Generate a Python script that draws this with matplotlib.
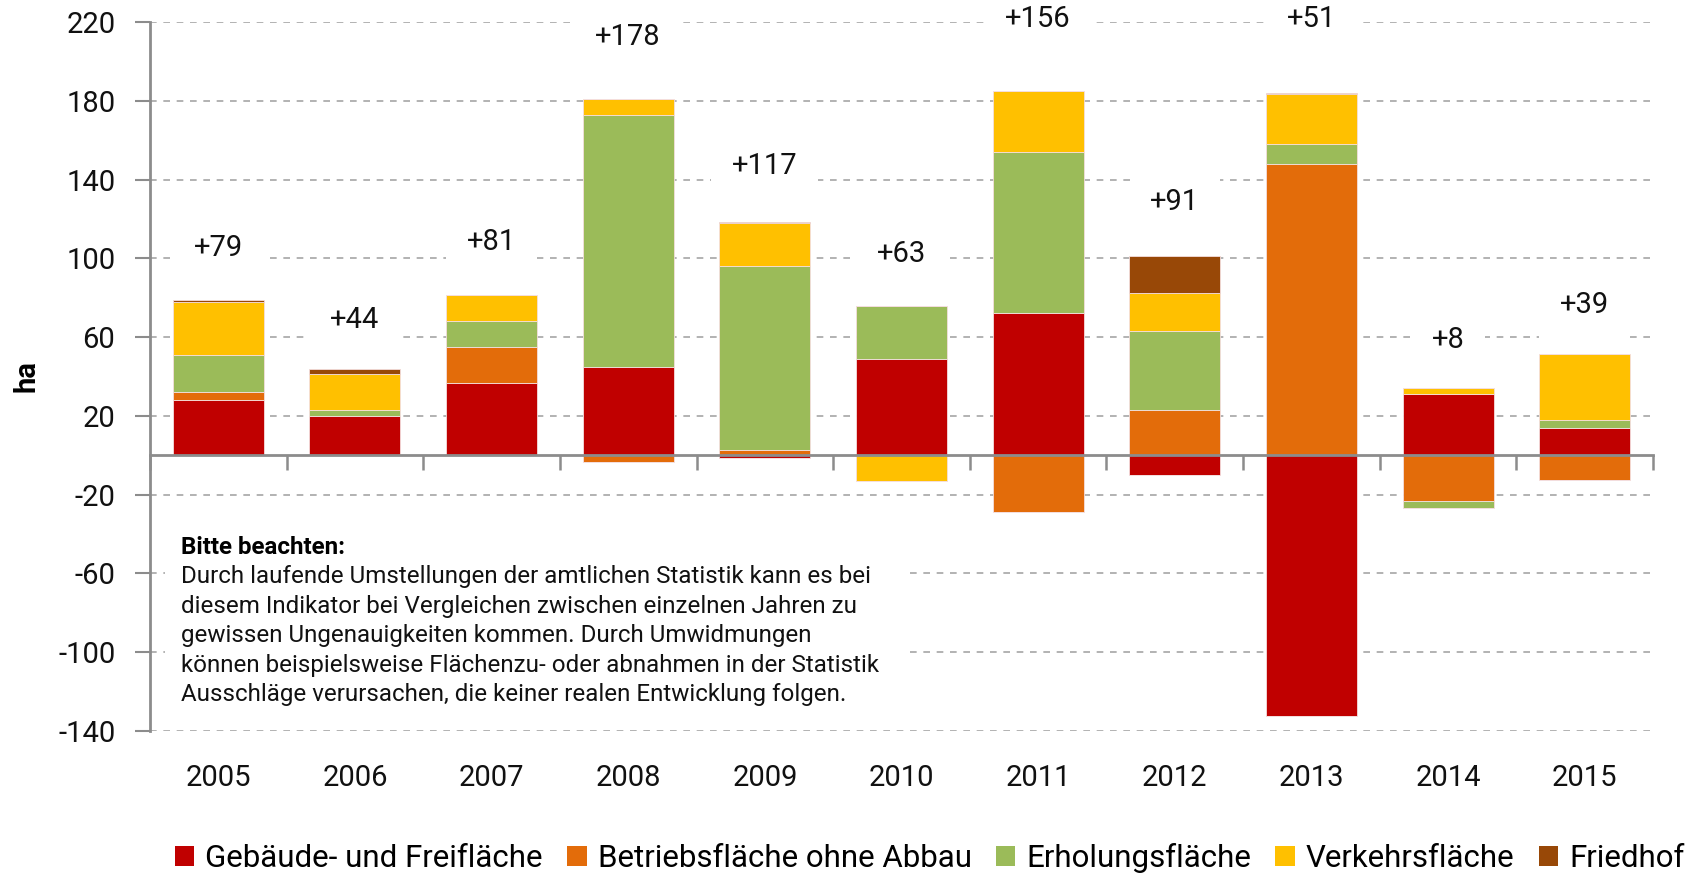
import numpy as np
import matplotlib
matplotlib.use("Agg")
import matplotlib.pyplot as plt
from matplotlib.patches import Patch, Rectangle
from matplotlib.transforms import blended_transform_factory

plt.rcParams['font.family'] = ['Roboto', 'DejaVu Sans']

# Data (ha)
years = ['2005', '2006', '2007', '2008', '2009', '2010', '2011', '2012', '2013', '2014', '2015']
gebaeude = [28, 20, 36.5, 45, -1.5, 49, 72, -10, -132.5, 31, 14]
betrieb = [4, 0, 18.5, -3.2, 2.5, 0, -29, 23, 148, -23.2, -12.4]
erholung = [19, 3, 13, 128, 93.5, 27, 82, 40, 10, -3.4, 4]
verkehr = [27, 18.5, 13.5, 8, 22, -13, 31, 19.5, 25.5, 3.4, 33.3]
friedhof = [1, 2.5, 0, 0, 0.5, 0, 0, 18.5, 0.5, 0, 0]
totals = [79, 44, 81, 178, 117, 63, 156, 91, 51, 8, 39]

series = [
    ('Gebäude- und Freifläche', gebaeude, '#C00000'),
    ('Betriebsfläche ohne Abbau', betrieb, '#E36C0A'),
    ('Erholungsfläche', erholung, '#9BBB59'),
    ('Verkehrsfläche', verkehr, '#FFC000'),
    ('Friedhof', friedhof, '#984807'),
]

W, H = 1687, 875
fig = plt.figure(figsize=(W / 100, H / 100), dpi=100)
ax = fig.add_axes([150 / W, 1 - 731 / H, 1503 / W, 709 / H])

x = np.arange(len(years))
pos_base = np.zeros(len(years))
neg_base = np.zeros(len(years))
for name, vals, color in series:
    v = np.array(vals, dtype=float)
    pos = np.where(v > 0, v, 0)
    neg = np.where(v < 0, v, 0)
    ax.bar(x, pos, 0.666, bottom=pos_base, color=color, edgecolor='#f4dede',
           linewidth=0.6, zorder=2)
    ax.bar(x, neg, 0.666, bottom=neg_base, color=color, edgecolor='#f4dede',
           linewidth=0.6, zorder=2)
    pos_base += pos
    neg_base += neg

# total labels above the bars
for i, t in enumerate(totals):
    y = min(1.05 * pos_base[i] + 22.5, 221.5)
    if pos_base[i] > 182:
        y = 221.5
    ax.text(x[i], y, f'+{t}', ha='center', va='center', fontsize=21,
            color='#111111', zorder=4, clip_on=False,
            bbox=dict(facecolor='white', edgecolor='none', pad=15))

# axes styling
ax.set_xlim(-0.5, len(years) - 0.5)
ax.set_ylim(-140, 220)
yt = np.arange(-140, 221, 40)
ax.set_yticks(yt)
ax.set_yticklabels([str(v) for v in yt], fontsize=21, color='#111111')
ax.tick_params(axis='y', length=11, width=1.5, color='#8c8c8c', pad=14)
ax.set_xticks(np.arange(-0.5, len(years), 1))
ax.set_xticklabels([])
ax.tick_params(axis='x', length=11, width=1.8, color='#8c8c8c', direction='out')

ax.spines['top'].set_visible(False)
ax.spines['right'].set_visible(False)
ax.spines['left'].set_color('#8c8c8c')
ax.spines['left'].set_linewidth(2)
ax.spines['bottom'].set_position(('data', 0))
ax.spines['bottom'].set_color('#8c8c8c')
ax.spines['bottom'].set_linewidth(2)
ax.spines['bottom'].set_zorder(3)

ax.set_axisbelow(True)
ax.grid(axis='y', linestyle=(0, (4, 4)), color='#a6a6a6', linewidth=1.2)

# year labels below the plot
trans = blended_transform_factory(ax.transData, ax.transAxes)
for i, yr in enumerate(years):
    ax.text(x[i], -0.066, yr, transform=trans, ha='center', va='center',
            fontsize=21, color='#111111')

ax.set_ylabel('ha', fontsize=21, fontweight='bold')
ax.yaxis.set_label_coords(-0.073, 0.5)

# note box
ax.add_patch(Rectangle((0.01, 0.022), 0.495, 0.275, transform=ax.transAxes,
                       facecolor='white', edgecolor='none', zorder=1))
ax.text(0.0206, 0.2595, 'Bitte beachten:', transform=ax.transAxes,
        fontsize=17.4, fontweight='bold', va='center', ha='left', zorder=3)
note = ('Durch laufende Umstellungen der amtlichen Statistik kann es bei\n'
        'diesem Indikator bei Vergleichen zwischen einzelnen Jahren zu\n'
        'gewissen Ungenauigkeiten kommen. Durch Umwidmungen\n'
        'können beispielsweise Flächenzu- oder abnahmen in der Statistik\n'
        'Ausschläge verursachen, die keiner realen Entwicklung folgen.')
ax.text(0.0206, 0.234, note, transform=ax.transAxes, fontsize=17.4,
        va='top', ha='left', linespacing=1.36, color='#111111', zorder=3)

# legend
handles = [Patch(facecolor=c, edgecolor='none', label=n) for n, _, c in series]
fig.legend(handles=handles, loc='center left', ncol=5, frameon=False,
           bbox_to_anchor=(175 / W, 1 - 858 / H), borderaxespad=0, borderpad=0,
           fontsize=22.5, handlelength=0.62, handleheight=0.62, handletextpad=0.35,
           columnspacing=0.78)

fig.savefig('out.png', dpi=100)
